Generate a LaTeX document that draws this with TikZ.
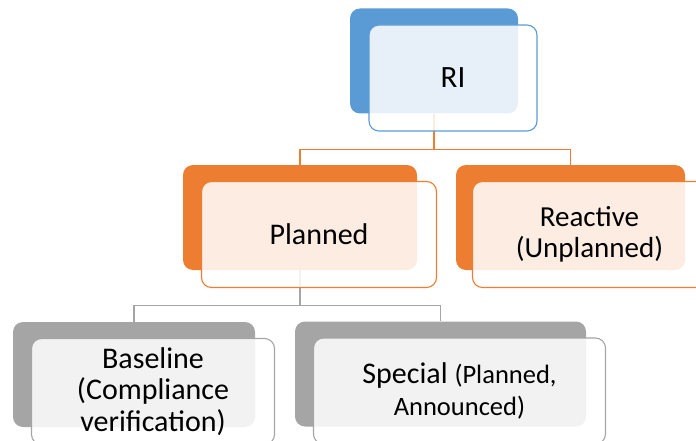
\documentclass[tikz,border=0pt]{standalone}
\usepackage{fontspec}
\setmainfont{Carlito}
\usetikzlibrary{positioning}
\definecolor{riblue}{HTML}{5B9BD5}
\definecolor{riorange}{HTML}{ED7D31}
\definecolor{rigray}{HTML}{A5A5A5}

\begin{document}
\begin{tikzpicture}[x=1pt,y=-1pt,
  back/.style={rectangle,rounded corners=10pt,fill=#1,minimum height=105pt,inner sep=0pt},
  front/.style={rectangle,rounded corners=10pt,draw=#1,line width=1.1pt,fill=white,fill opacity=0.86,text opacity=1,
    minimum height=106pt,inner sep=0pt,align=center,xshift=19pt,yshift=-17pt,font=\fontsize{30}{31.5}\selectfont},
  link/.style={draw=#1,line width=1.1pt}]
\useasboundingbox (0,0) rectangle (696,441);
%
\node[back=riblue,minimum width=168pt] (ri) at (434,61) {};
\node[back=riorange,minimum width=234pt] (planned) at (300,217.5) {};
\node[back=riorange,minimum width=229pt] (reactive) at (570.5,217.5) {};
\node[back=rigray,minimum width=242pt] (baseline) at (134,374.5) {};
\node[back=rigray,minimum width=291pt] (special) at (440.5,374) {};
%
\draw[link=riorange] (ri.south) -- ++(0,36) coordinate(busA) -| (planned.north);
\draw[link=riorange] (busA) -| (reactive.north);
\draw[link=rigray] (planned.south) -- ++(0,35) coordinate(busB) -| (baseline.north);
\draw[link=rigray] (busB) -| (special.north);
%
\node[front=riblue,minimum width=168pt,font=\fontsize{31}{37}\selectfont] (riF) at (ri) {RI};
\node[front=riorange,minimum width=235pt] (plannedF) at (planned) {Planned};
\node[front=riorange,minimum width=234pt,font=\fontsize{29}{31}\selectfont] (reactiveF) at (reactive) {Reactive\\(Unplanned)};
\node[front=rigray,minimum width=243pt] (baselineF) at (baseline) {Baseline\\(Compliance\\verification)};
\node[front=rigray,minimum width=292pt] (specialF) at (special) {Special {\fontsize{26.5}{30}\selectfont(Planned,}\\{\fontsize{26.5}{30}\selectfont Announced)}};
\end{tikzpicture}
\end{document}
